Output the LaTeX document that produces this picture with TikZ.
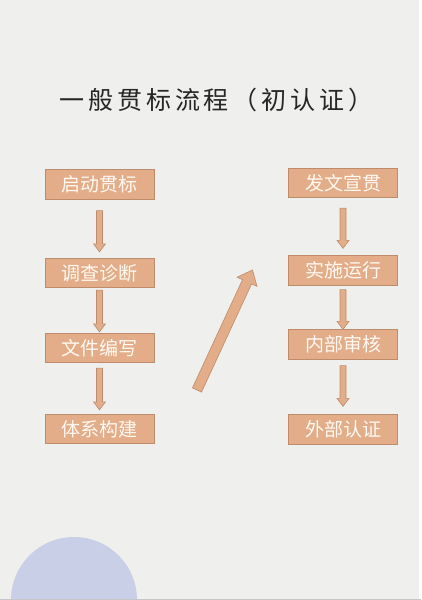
\documentclass[tikz,border=0pt]{standalone}
\usepackage{fontspec}
\usepackage{xcolor}
\newfontfamily\cjk{Noto Sans CJK SC}
\newfontfamily\cjktitle[LetterSpace=15.6]{Noto Sans CJK SC}
\usetikzlibrary{calc}
\definecolor{pagebg}{HTML}{EFEFED}
\definecolor{boxfill}{HTML}{E2AD88}
\definecolor{boxline}{HTML}{BE8C6B}
\definecolor{disc}{HTML}{C9CFE6}
\definecolor{boxtext}{HTML}{FFF9F2}
\tikzset{
  stepbox/.style={draw=boxline, fill=boxfill, line width=0.8pt, minimum width=109pt,
    minimum height=29.5pt, inner sep=0pt, text=boxtext, font=\cjk\fontsize{19}{19}\selectfont},
  arrowbody/.style={draw=boxline, fill=boxfill, line width=0.6pt, line join=miter}
}
% block arrow: start, end, half shaft, half head, head length
\newcommand{\blockarrow}[5]{%
  \filldraw[arrowbody] ($(#1)!#3!90:(#2)$) -- ($(#2)!#5!(#1)!#3!-90:(#1)$)
    -- ($(#2)!#5!(#1)!#4!-90:(#1)$) -- (#2) -- ($(#2)!#5!(#1)!#4!90:(#1)$)
    -- ($(#2)!#5!(#1)!#3!90:(#1)$) -- ($(#1)!#3!-90:(#2)$) -- cycle;}

\begin{document}
\begin{tikzpicture}[x=1pt, y=-1pt]
      \useasboundingbox (0,0) rectangle (421,600);
      \fill[pagebg] (0,0) rectangle (419,598.5);
      \fill[white] (419,0) rectangle (421,600);
      \fill[disc] (11,600) arc[start angle=180, end angle=360, radius=63] -- cycle;
      \fill[black!22] (0,598.5) rectangle (421,600);
      \node[font=\cjktitle\fontsize{25}{25}\selectfont, text=black!85] (T) at (216.5,100) {一般贯标流程（初认证）};
      % left column
      \node[stepbox] (QD) at (99.5, 184.5) {启动贯标};
      \node[stepbox] (DC) at (99.5, 273) {调查诊断};
      \node[stepbox] (WB) at (99.5, 348) {文件编写};
      \node[stepbox] (TJ) at (99.5, 429) {体系构建};
      % right column
      \node[stepbox] (FW) at (343, 183) {发文宣贯};
      \node[stepbox] (SS) at (343, 270.5) {实施运行};
      \node[stepbox] (NB) at (343, 344.5) {内部审核};
      \node[stepbox] (WR) at (343, 429.5) {外部认证};
      % arrow ends
      \coordinate (a0) at ($(QD.south)+(0,11)$);
      \coordinate (a1) at ($(DC.north)+(0,-6)$);
      \coordinate (b0) at ($(DC.south)+(0,2)$);
      \coordinate (b1) at ($(WB.north)+(0,-1)$);
      \coordinate (c0) at ($(WB.south)+(0,5)$);
      \coordinate (c1) at ($(TJ.north)+(0,-4)$);
      \coordinate (d0) at ($(FW.south)+(0,10)$);
      \coordinate (d1) at ($(SS.north)+(0,-7)$);
      \coordinate (e0) at ($(SS.south)+(0,4)$);
      \coordinate (e1) at ($(NB.north)+(0,0)$);
      \coordinate (f0) at ($(NB.south)+(0,6)$);
      \coordinate (f1) at ($(WR.north)+(0,-8)$);
      \coordinate (u0) at (197, 390);
      \coordinate (u1) at (252.5, 270);
      \blockarrow{a0}{a1}{3pt}{6pt}{8pt}
      \blockarrow{b0}{b1}{3pt}{6pt}{8pt}
      \blockarrow{c0}{c1}{3pt}{6pt}{8pt}
      \blockarrow{d0}{d1}{3pt}{6pt}{8pt}
      \blockarrow{e0}{e1}{3pt}{6pt}{8pt}
      \blockarrow{f0}{f1}{3pt}{6pt}{8pt}
      \blockarrow{u0}{u1}{5pt}{11pt}{13pt}
    \end{tikzpicture}
\end{document}
